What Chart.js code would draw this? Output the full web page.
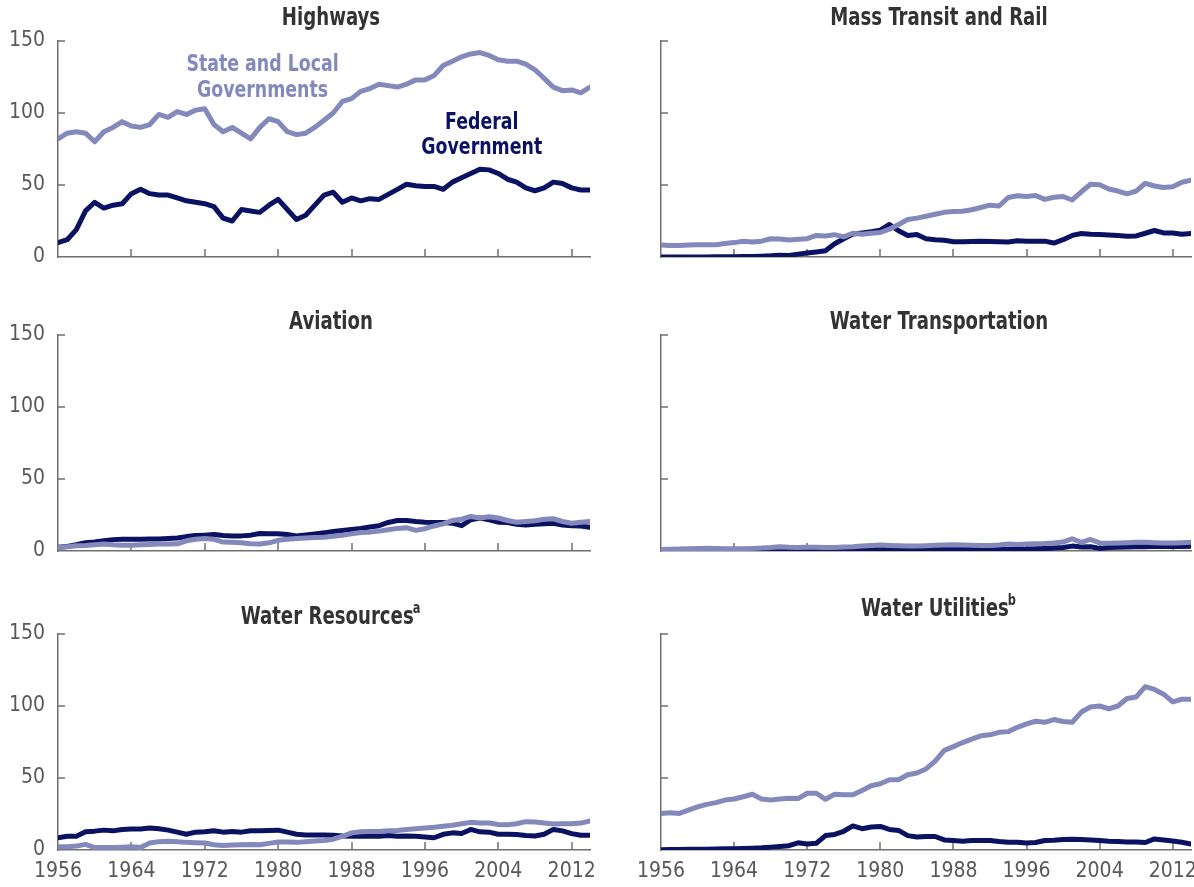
<!DOCTYPE html>
<html>
<head>
<meta charset="utf-8">
<title>Public Spending on Infrastructure</title>
<script src="https://cdn.jsdelivr.net/npm/chart.js@4.4.1/dist/chart.umd.min.js"></script>
<style>
  body { margin: 0; background: #fff; }
  #wrap { position: relative; width: 1194px; height: 887px; overflow: hidden; }
  #wrap canvas { position: absolute; }
</style>
</head>
<body>
<div id="wrap"></div>
<script>
// ---- data (billions of 2014 dollars) ----
const years = [
  1956, 1957, 1958, 1959, 1960, 1961, 1962, 1963, 1964, 1965,
  1966, 1967, 1968, 1969, 1970, 1971, 1972, 1973, 1974, 1975,
  1976, 1977, 1978, 1979, 1980, 1981, 1982, 1983, 1984, 1985,
  1986, 1987, 1988, 1989, 1990, 1991, 1992, 1993, 1994, 1995,
  1996, 1997, 1998, 1999, 2000, 2001, 2002, 2003, 2004, 2005,
  2006, 2007, 2008, 2009, 2010, 2011, 2012, 2013, 2014
];
const tickYears = [1956, 1964, 1972, 1980, 1988, 1996, 2004, 2012];
const tickValues = [0, 50, 100, 150];

const highwaysState = [
  82, 86, 87, 86, 80, 87, 90, 94, 91, 90,
  92, 99, 97, 101, 99, 102, 103, 92, 87, 90,
  86, 82, 90, 96, 94, 87, 85, 86, 90, 95,
  100, 108, 110, 115, 117, 120, 119, 118, 120, 123,
  123, 126, 133, 136, 139, 141, 142, 140, 137, 136,
  136, 134, 130, 124, 118, 115.5, 116, 114, 118
];
const highwaysFederal = [
  10, 12, 19, 32, 38, 34, 36, 37, 44, 47,
  44, 43, 43, 41, 39, 38, 37, 35, 27, 25,
  33, 32, 31, 36, 40, 33, 26, 29, 36, 43,
  45, 38, 41, 39, 40.5, 40, 43.5, 47, 50.5, 49.5,
  49, 49, 47, 52, 55, 58, 61, 60.5, 58, 54,
  52, 48, 46, 48, 52, 51, 48, 46.5, 46.5
];
const transitState = [
  8.3, 8, 8, 8.3, 8.5, 8.5, 8.5, 9.4, 10, 11,
  10.4, 11, 12.7, 12.5, 11.8, 12.3, 12.7, 15, 14.6, 15.5,
  14, 16.5, 15.8, 16.5, 17, 19.3, 22.6, 26, 27, 28.3,
  29.7, 31, 31.6, 31.8, 32.8, 34.4, 36, 35.4, 41.3, 42.5,
  42, 42.7, 40, 41.5, 42, 39.6, 45.3, 50.5, 50.2, 47.2,
  45.8, 43.9, 45.8, 51.2, 49.3, 48.3, 48.8, 51.9, 53.3
];
const transitFederal = [
  0, 0, 0, 0, 0, 0, 0.1, 0.1, 0.2, 0.3,
  0.4, 0.6, 0.8, 1.2, 1.0, 2.0, 2.8, 3.5, 4.3, 9.2,
  12.7, 16, 16.7, 17.5, 18.6, 22.6, 18.2, 15, 15.6, 12.7,
  12, 11.6, 10.6, 10.6, 10.8, 11, 10.8, 10.6, 10.4, 11.3,
  11, 11, 11, 9.7, 12, 15, 16.3, 15.8, 15.6, 15.3,
  14.9, 14.4, 14.6, 16.5, 18.4, 16.7, 16.7, 15.8, 16.3
];
const aviationState = [
  2.4, 2.9, 3.6, 3.8, 4.3, 4.8, 4.3, 4, 4, 4.3,
  4.5, 4.8, 4.8, 5, 7.1, 8.1, 8.6, 8.1, 6.2, 6,
  5.7, 5, 4.8, 5.7, 7.4, 8.1, 8.6, 9, 9.3, 9.5,
  10.2, 11, 11.9, 12.9, 13.1, 13.8, 14.8, 15.7, 16.2, 14.3,
  15.5, 17.4, 18.8, 21.2, 22.1, 24, 22.9, 23.8, 22.9, 21.2,
  20, 20.5, 21, 22.1, 22.4, 20.5, 19.3, 20, 20.5
];
const aviationFederal = [
  2.6, 3.1, 4.3, 5.7, 6.2, 7.1, 7.9, 8.1, 8.1, 8.1,
  8.3, 8.3, 8.6, 9.0, 10, 10.7, 11, 11.4, 10.7, 10.5,
  10.5, 11, 12.1, 11.9, 11.9, 11.4, 10.5, 11.2, 11.9, 12.6,
  13.6, 14.3, 15, 15.7, 16.7, 17.6, 19.8, 21.2, 21.2, 20.5,
  20, 19.8, 19.8, 19.3, 17.6, 21.7, 22.9, 21.7, 20, 19.8,
  18.6, 18.1, 18.6, 19, 19.3, 18.1, 17.6, 17.4, 16.4
];
const waterTransState = [
  1.0, 1.2, 1.4, 1.6, 1.8, 1.9, 1.7, 1.6, 1.5, 1.6,
  1.8, 2.0, 2.4, 3.0, 2.6, 2.5, 2.6, 2.6, 2.5, 2.5,
  2.7, 3.0, 3.5, 3.9, 4.1, 3.8, 3.6, 3.4, 3.5, 3.7,
  4.0, 4.2, 4.4, 4.2, 4.0, 3.8, 3.9, 4.2, 4.8, 4.6,
  4.8, 5.0, 5.2, 5.6, 6.2, 8.5, 6.0, 8.0, 5.6, 5.4,
  5.6, 5.8, 6.0, 6.0, 5.8, 5.6, 5.5, 5.8, 6.0
];
const waterTransFederal = [
  0.3, 0.3, 0.4, 0.5, 0.5, 0.6, 0.6, 0.7, 0.7, 0.8,
  0.9, 1.0, 1.1, 1.2, 1.1, 1.0, 1.0, 0.9, 0.9, 1.0,
  1.0, 1.1, 1.2, 1.3, 1.3, 1.2, 1.1, 1.0, 1.0, 1.0,
  1.0, 1.1, 1.1, 1.0, 1.0, 1.0, 1.1, 1.2, 1.3, 1.4,
  1.4, 1.5, 1.7, 2.0, 2.4, 3.4, 2.8, 3.0, 1.8, 2.4,
  2.6, 2.8, 2.9, 3.0, 3.3, 3.2, 3.1, 3.2, 3.3
];
const resourcesState = [
  2.2, 2.2, 2.7, 3.9, 1.7, 1.7, 1.7, 1.9, 2.2, 1.7,
  4.9, 5.8, 6.1, 5.8, 5.3, 5.1, 4.9, 3.6, 3.2, 3.4,
  3.6, 3.9, 3.6, 4.6, 5.6, 5.6, 5.3, 5.8, 6.3, 6.6,
  7.5, 9.5, 11.9, 12.6, 12.9, 12.9, 13.3, 13.6, 14.3, 14.8,
  15.3, 15.8, 16.5, 17.2, 18.2, 19.2, 18.7, 18.7, 17.7, 17.5,
  18.2, 19.7, 19.4, 18.7, 18, 18.2, 18.2, 18.7, 20.1
];
const resourcesFederal = [
  8.5, 9.5, 9.5, 12.6, 13.1, 13.8, 13.3, 14.3, 14.6, 14.6,
  15.3, 14.8, 13.8, 12.4, 10.9, 12.4, 12.6, 13.3, 12.4, 12.9,
  12.4, 13.3, 13.3, 13.6, 13.8, 12.4, 10.9, 10.4, 10.4, 10.4,
  10.2, 9.7, 9.5, 9.5, 9.7, 9.5, 10, 9.5, 9.7, 9.5,
  9, 8.5, 10.9, 11.9, 11.4, 14.3, 12.6, 12.4, 10.9, 10.9,
  10.7, 10, 9.7, 10.9, 14.3, 13.3, 11.4, 10.2, 10.2
];
const utilitiesState = [
  25.4, 25.8, 25.4, 27.7, 30, 31.7, 32.9, 34.7, 35.4, 37,
  38.7, 35.4, 34.7, 35.4, 35.9, 35.7, 39.4, 39.4, 35.2, 38.7,
  38.3, 38.3, 41.3, 44.6, 46, 48.8, 48.8, 52.3, 53.5, 56.3,
  61.7, 69.2, 71.8, 74.6, 77, 79.3, 80, 81.7, 82.2, 85.2,
  87.6, 89.4, 88.7, 90.6, 89.2, 88.7, 95.8, 99.3, 100, 98.1,
  100, 105.2, 106.3, 113.4, 111.5, 108.2, 102.8, 104.7, 104.7
];
const utilitiesFederal = [
  0.2, 0.3, 0.4, 0.5, 0.5, 0.6, 0.7, 0.8, 0.9, 1.0,
  1.2, 1.5, 2, 2.5, 3, 5, 4.2, 4.7, 10, 10.8,
  13, 16.7, 14.8, 16, 16.4, 14.3, 13.6, 10, 9, 9.4,
  9.4, 7, 6.6, 6.1, 6.6, 6.6, 6.6, 5.9, 5.4, 5.4,
  4.9, 5.2, 6.6, 6.8, 7.3, 7.5, 7.3, 7, 6.6, 6.1,
  5.9, 5.6, 5.6, 5.2, 7.7, 7, 6.3, 5.4, 4.2
];

// ---- look ----
const FONT = "'DejaVu Sans Condensed', 'Liberation Sans Narrow', 'Arial Narrow', sans-serif";
const NAVY = '#0c1262';
const LAVENDER = '#8489bb';
const AXIS = '#707070';
const TICK_TEXT = '#595959';
const TITLE_TEXT = '#333333';
const SQUEEZE = 0.84;  // horizontal squeeze to mimic the narrow face of the original

// in-plot labels of the highways panel (placed in data units)
const highwayNotes = [
  { lines: ['State and Local', 'Governments'], year: 1978.3, values: [133, 115.5], color: LAVENDER },
  { lines: ['Federal', 'Government'], year: 2002.2, values: [93, 75.5], color: NAVY }
];

// panel grid: col 0 = left, col 1 = right; rows share heights
const cols = [
  { left: 0, width: 597, axisW: 58, padRight: 7, titleDx: 7 },
  { left: 597, width: 597, axisW: 64, padRight: 3, titleDx: 13 }
];
const rows = [
  { top: 0, height: 295, padTop: 41, xAxisH: 38 },
  { top: 295, height: 295, padTop: 40, xAxisH: 39 },
  { top: 590, height: 297, padTop: 44, xAxisH: 37 }
];

const panels = [
  { title: 'Highways', sup: '', col: 0, row: 0, titleY: 19, state: highwaysState, federal: highwaysFederal, notes: highwayNotes },
  { title: 'Mass Transit and Rail', sup: '', col: 1, row: 0, titleY: 19, state: transitState, federal: transitFederal },
  { title: 'Aviation', sup: '', col: 0, row: 1, titleY: 28, state: aviationState, federal: aviationFederal },
  { title: 'Water Transportation', sup: '', col: 1, row: 1, titleY: 28, state: waterTransState, federal: waterTransFederal },
  { title: 'Water Resources', sup: 'a', col: 0, row: 2, titleY: 28, state: resourcesState, federal: resourcesFederal },
  { title: 'Water Utilities', sup: 'b', col: 1, row: 2, titleY: 20, state: utilitiesState, federal: utilitiesFederal }
];

function squeezedText(ctx, text, x, y) {
  ctx.save();
  ctx.translate(x, y);
  ctx.scale(SQUEEZE, 1);
  ctx.fillText(text, 0, 0);
  ctx.restore();
}

// title with optional superscript, centred a little right of the plot centre
const panelTitle = {
  id: 'panelTitle',
  afterDraw(chart, args, opts) {
    const { ctx, chartArea } = chart;
    ctx.save();
    ctx.fillStyle = TITLE_TEXT;
    ctx.textBaseline = 'middle';
    ctx.textAlign = 'left';
    ctx.font = 'bold 24px ' + FONT;
    const w = ctx.measureText(opts.text).width * SQUEEZE;
    let supW = 0;
    if (opts.sup) {
      ctx.font = 'bold 15px ' + FONT;
      supW = ctx.measureText(opts.sup).width * SQUEEZE;
    }
    const cx = (chartArea.left + chartArea.right) / 2 + opts.dx;
    const x0 = cx - (w + supW) / 2;
    ctx.font = 'bold 24px ' + FONT;
    squeezedText(ctx, opts.text, x0, opts.y);
    if (opts.sup) {
      ctx.font = 'bold 15px ' + FONT;
      squeezedText(ctx, opts.sup, x0 + w - 1, opts.y - 9);
    }
    ctx.restore();
  }
};

// short tick marks pointing into the plot
const innerTicks = {
  id: 'innerTicks',
  beforeDatasetsDraw(chart) {
    const { ctx, chartArea, scales } = chart;
    ctx.save();
    ctx.strokeStyle = AXIS;
    ctx.lineWidth = 1.5;
    ctx.beginPath();
    scales.y.ticks.forEach(t => {
      if (t.value === scales.y.min) return;
      const py = Math.round(scales.y.getPixelForValue(t.value));
      ctx.moveTo(chartArea.left, py);
      ctx.lineTo(chartArea.left + 7, py);
    });
    scales.x.ticks.forEach(t => {
      if (t.value === scales.x.min) return;
      const px = Math.round(scales.x.getPixelForValue(t.value));
      ctx.moveTo(px, chartArea.bottom);
      ctx.lineTo(px, chartArea.bottom - 8);
    });
    ctx.stroke();
    ctx.restore();
  }
};

// series names written inside the plot
const seriesNotes = {
  id: 'seriesNotes',
  afterDatasetsDraw(chart, args, opts) {
    if (!opts.items) return;
    const { ctx, scales } = chart;
    ctx.save();
    ctx.font = 'bold 23px ' + FONT;
    ctx.textAlign = 'center';
    ctx.textBaseline = 'middle';
    opts.items.forEach(n => {
      ctx.fillStyle = n.color;
      const px = scales.x.getPixelForValue(n.year);
      n.lines.forEach((line, i) => {
        squeezedText(ctx, line, px, scales.y.getPixelForValue(n.values[i]));
      });
    });
    ctx.restore();
  }
};

const wrap = document.getElementById('wrap');

panels.forEach(p => {
  const c = cols[p.col];
  const r = rows[p.row];
  const canvas = document.createElement('canvas');
  canvas.width = c.width;
  canvas.height = r.height;
  canvas.style.left = c.left + 'px';
  canvas.style.top = r.top + 'px';
  canvas.style.width = c.width + 'px';
  canvas.style.height = r.height + 'px';
  wrap.appendChild(canvas);

  const showY = p.col === 0;
  const showX = p.row === 2;

  new Chart(canvas.getContext('2d'), {
    type: 'line',
    data: {
      datasets: [
        {
          label: 'State and Local Governments',
          data: years.map((yr, i) => ({ x: yr, y: p.state[i] })),
          borderColor: LAVENDER,
          borderWidth: 5,
          pointRadius: 0,
          borderJoinStyle: 'round',
          borderCapStyle: 'round',
          tension: 0
        },
        {
          label: 'Federal Government',
          data: years.map((yr, i) => ({ x: yr, y: p.federal[i] })),
          borderColor: NAVY,
          borderWidth: 5,
          pointRadius: 0,
          borderJoinStyle: 'round',
          borderCapStyle: 'round',
          tension: 0
        }
      ]
    },
    options: {
      responsive: false,
      maintainAspectRatio: false,
      animation: false,
      events: [],
      layout: { padding: { top: r.padTop, right: c.padRight, left: 0, bottom: 0 } },
      plugins: {
        legend: { display: false },
        tooltip: { enabled: false },
        panelTitle: { text: p.title, sup: p.sup, y: p.titleY, dx: c.titleDx },
        seriesNotes: { items: p.notes || null }
      },
      scales: {
        x: {
          type: 'linear',
          min: years[0],
          max: years[years.length - 1],
          afterBuildTicks: scale => { scale.ticks = tickYears.map(v => ({ value: v })); },
          afterFit: scale => {
            scale.height = r.xAxisH;
            scale.paddingLeft = 0;
            scale.paddingRight = 0;
          },
          grid: { display: false, drawTicks: false },
          border: { display: true, color: AXIS, width: 1.5 },
          ticks: {
            display: showX,
            autoSkip: false,
            maxRotation: 0,
            padding: 9,
            color: TICK_TEXT,
            font: { family: FONT, size: 21 },
            callback: v => String(v)
          }
        },
        y: {
          min: tickValues[0],
          max: tickValues[tickValues.length - 1],
          afterBuildTicks: scale => { scale.ticks = tickValues.map(v => ({ value: v })); },
          afterFit: scale => { scale.width = c.axisW; },
          grid: { display: false, drawTicks: false },
          border: { display: true, color: AXIS, width: 1.5 },
          ticks: {
            display: showY,
            padding: 13,
            color: TICK_TEXT,
            font: { family: FONT, size: 21 }
          }
        }
      }
    },
    plugins: [innerTicks, seriesNotes, panelTitle]
  });
});
</script>
</body>
</html>
